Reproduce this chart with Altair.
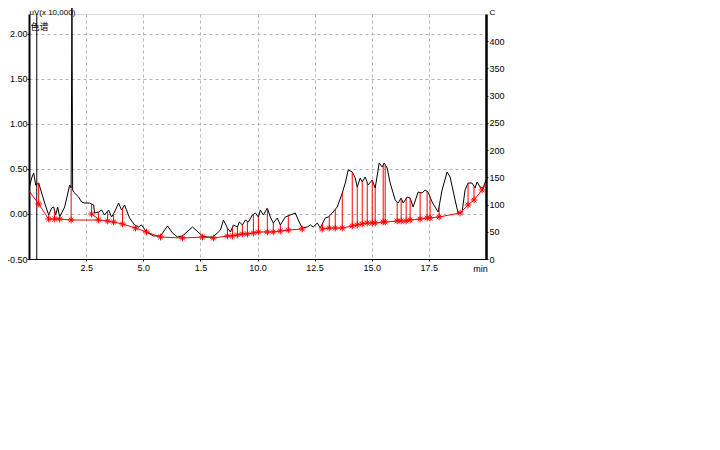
import altair as alt
import pandas as pd
import numpy as np

# Detector trace (time in min, signal in uV x 10,000)
trace_t = [0.03, 0.118, 0.205, 0.293, 0.424, 0.555, 0.686, 0.861, 0.993, 1.080, 1.167, 1.255, 1.342,
           1.561, 1.692, 1.779, 1.844, 1.879, 1.910, 1.954, 2.172, 2.303, 2.434, 2.653, 2.828, 2.871,
           3.046, 3.177, 3.308, 3.483, 3.614, 3.745, 3.920, 4.051, 4.182, 4.401, 4.619, 4.794, 4.925,
           5.143, 5.449, 5.755, 6.061, 6.280, 6.499, 6.717, 7.154, 7.591, 7.810, 8.028, 8.247, 8.378,
           8.509, 8.684, 8.815, 8.946, 9.121, 9.208, 9.339, 9.470, 9.601, 9.776, 9.907, 10.038, 10.125,
           10.256, 10.431, 10.562, 10.693, 10.868, 10.999, 11.217, 11.436, 11.654, 11.786, 11.961,
           12.179, 12.310, 12.441, 12.616, 12.747, 12.966, 13.097, 13.272, 13.490, 13.709, 13.840,
           13.971, 14.146, 14.277, 14.365, 14.496, 14.583, 14.714, 14.845, 15.020, 15.151, 15.326,
           15.457, 15.544, 15.675, 15.806, 16.025, 16.156, 16.287, 16.375, 16.549, 16.680, 16.812,
           17.030, 17.205, 17.336, 17.467, 17.642, 17.904, 18.079, 18.298, 18.429, 18.647, 18.778,
           18.953, 19.084, 19.215, 19.390, 19.521, 19.609, 19.740, 19.871, 20.0]
trace_v = [0.311, 0.40, 0.456, 0.322, 0.344, 0.233, 0.122, -0.011, 0.067, 0.078, -0.011, 0.078, -0.033,
           0.078, 0.222, 0.322, 0.289, 2.32, 0.267, 0.244, 0.189, 0.133, 0.122, 0.122, 0.10, 0.011,
           0.022, 0.044, -0.011, 0.044, -0.033, 0.022, 0.122, 0.044, 0.10, -0.044, -0.122, -0.144, -0.122,
           -0.20, -0.244, -0.244, -0.133, -0.211, -0.256, -0.244, -0.144, -0.244, -0.256, -0.256, -0.211, -0.178,
           -0.067, -0.156, -0.20, -0.122, -0.144, -0.089, -0.122, -0.067, -0.089, -0.011, 0.011, -0.033, 0.044,
           -0.011, 0.067, -0.033, -0.10, -0.044, -0.122, -0.033, -0.011, 0.011, -0.067, -0.156,
           -0.144, -0.122, -0.144, -0.10, -0.156, -0.044, -0.033, 0.011, 0.078, 0.233, 0.344,
           0.489, 0.467, 0.40, 0.30, 0.40, 0.356, 0.411, 0.322, 0.378, 0.289, 0.567,
           0.522, 0.567, 0.511, 0.344, 0.156, 0.122, 0.178, 0.122, 0.189, 0.178, 0.078,
           0.244, 0.233, 0.267, 0.244, 0.133, 0.022, 0.267, 0.467, 0.411, 0.156, 0.011,
           0.022, 0.267, 0.344, 0.344, 0.289, 0.356, 0.30, 0.289, 0.378]

# Integration baseline points: segment id, time, level, star marker (1) or not (0)
base_seg = ["A"] * 28 + ["B"] * 2 + ["C"] * 25
base_t = [0.0, 0.424, 0.861, 1.124, 1.342, 1.844, 3.046, 3.440, 3.702, 4.095, 4.663, 5.143, 5.755,
          6.717, 7.591, 8.072, 8.684, 8.903, 9.121, 9.339, 9.558, 9.820, 10.038, 10.431, 10.693,
          10.999, 11.348, 11.961,
          2.740, 3.046,
          12.835, 13.141, 13.403, 13.709, 14.146, 14.365, 14.583, 14.802, 15.020, 15.151, 15.500,
          15.588, 16.112, 16.287, 16.506, 16.680, 17.117, 17.423, 17.554, 17.948, 18.865, 19.215,
          19.477, 19.827, 20.0]
base_v = [0.256, 0.111, -0.056, -0.056, -0.056, -0.067, -0.067, -0.078, -0.089, -0.111, -0.156, -0.20, -0.256,
          -0.267, -0.256, -0.267, -0.244, -0.244, -0.233, -0.222, -0.222, -0.211, -0.20, -0.20, -0.20,
          -0.189, -0.178, -0.167,
          0.0, -0.056,
          -0.167, -0.156, -0.156, -0.156, -0.133, -0.122, -0.111, -0.10, -0.10, -0.10, -0.089,
          -0.089, -0.078, -0.078, -0.078, -0.067, -0.056, -0.044, -0.044, -0.033, 0.011, 0.10,
          0.156, 0.267, 0.344]
base_star = [0] + [1] * 27 + [1, 0] + [1] * 24 + [0]

inject_t = [0.34]
x_ticks = [2.5, 5.0, 7.5, 10.0, 12.5, 15.0, 17.5]
y_ticks = [-0.5, -0.25, 0.0, 0.25, 0.5, 0.75, 1.0, 1.25, 1.5, 1.75, 2.0]
r_ticks = [0, 50, 100, 150, 200, 250, 300, 350, 400]

FONT = "Liberation Sans"
trace_df = pd.DataFrame({"t": trace_t, "v": trace_v})
base_df = pd.DataFrame({"seg": base_seg, "t": base_t, "v": base_v, "star": base_star})
stars = base_df[base_df.star == 1].copy()
stars["top"] = np.interp(stars.t, trace_t, trace_v)

xs = alt.Scale(domain=[0, 20], nice=False, zero=False)
ys = alt.Scale(domain=[-0.5, 2.2222], nice=False, zero=False)

xaxis = alt.Axis(values=x_ticks, grid=True, gridDash=[3, 3], gridColor="#b4b4b4",
                 labelExpr="datum.value == 7.5 ? '1.5' : format(datum.value, '.1f')",
                 labelFont=FONT, labelFontSize=9, labelColor="black", labelPadding=2,
                 tickSize=2, tickColor="black", domainColor="black", domainWidth=1,
                 title="min", titleFont=FONT, titleFontSize=9, titleFontWeight="normal",
                 titleX=451, titleY=12, titleBaseline="alphabetic", titleAlign="center")
yaxis = alt.Axis(values=y_ticks, grid=True, gridDash=[3, 3], gridColor="#b4b4b4",
                 labelExpr="datum.value == 0.75 ? '0.15' : replace(format(datum.value, '.2f'), '\u2212', '-')",
                 labelFont=FONT, labelFontSize=9, labelColor="black", labelPadding=0,
                 tickSize=2, tickColor="black", domainColor="black", domainWidth=2,
                 title="uV(x 10,000)", titleFont=FONT, titleFontSize=8, titleFontWeight="normal",
                 titleAngle=0, titleAlign="left", titleBaseline="alphabetic", titleX=0, titleY=0)

trace = alt.Chart(trace_df).mark_line(color="black", strokeWidth=1, clip=False).encode(
    x=alt.X("t:Q", scale=xs, axis=xaxis),
    y=alt.Y("v:Q", scale=ys, axis=yaxis),
    order="t:Q",
)

inject = alt.Chart(pd.DataFrame({"t": inject_t})).mark_rule(color="black", strokeWidth=1).encode(
    x=alt.X("t:Q", scale=xs)
)

baseline = alt.Chart(base_df).mark_line(color="#ff0000", strokeWidth=1).encode(
    x=alt.X("t:Q", scale=xs),
    y=alt.Y("v:Q", scale=ys),
    detail="seg:N",
    order="t:Q",
)

drops = alt.Chart(stars).mark_rule(color="#ff0000", strokeWidth=1).encode(
    x=alt.X("t:Q", scale=xs),
    y=alt.Y("v:Q", scale=ys),
    y2="top:Q",
)

star_shape = "M-1,0L1,0M0,-1L0,1M-0.7,-0.7L0.7,0.7M-0.7,0.7L0.7,-0.7"
star_marks = alt.Chart(stars).mark_point(shape=star_shape, filled=False, color="#ff0000",
                                         size=45, strokeWidth=1, opacity=1).encode(
    x=alt.X("t:Q", scale=xs),
    y=alt.Y("v:Q", scale=ys),
)

legend_txt = alt.Chart(pd.DataFrame({"t": [0.07], "v": [2.08], "s": ["色谱"]})).mark_text(
    align="left", baseline="middle", font="Noto Sans CJK SC", fontSize=9, color="black"
).encode(x=alt.X("t:Q", scale=xs), y=alt.Y("v:Q", scale=ys), text="s:N")

left = alt.layer(trace, inject, baseline, drops, star_marks, legend_txt)

right = alt.Chart(pd.DataFrame({"t": [0, 20], "c": [0, 450]})).mark_point(opacity=0).encode(
    x=alt.X("t:Q", scale=xs),
    y=alt.Y("c:Q", scale=alt.Scale(domain=[0, 450], nice=False),
            axis=alt.Axis(orient="right", values=r_ticks, grid=False, labelFont=FONT,
                          labelFontSize=9, labelColor="black", labelPadding=1, tickSize=2,
                          tickColor="black", domainColor="black", domainWidth=2.5,
                          title="C", titleFont=FONT, titleFontSize=8, titleFontWeight="normal",
                          titleAngle=0, titleAlign="left", titleBaseline="alphabetic",
                          titleX=3, titleY=0)),
)

chart = alt.layer(left, right).resolve_scale(y="independent").properties(
    width=457, height=245,
    padding={"left": 21, "top": 6, "right": 40, "bottom": 25},
    autosize=alt.AutoSizeParams(type="none"),
).configure_view(stroke="black", strokeWidth=1).configure(background="white")

chart.save("out.html", embed_options={"renderer": "svg", "actions": False})
